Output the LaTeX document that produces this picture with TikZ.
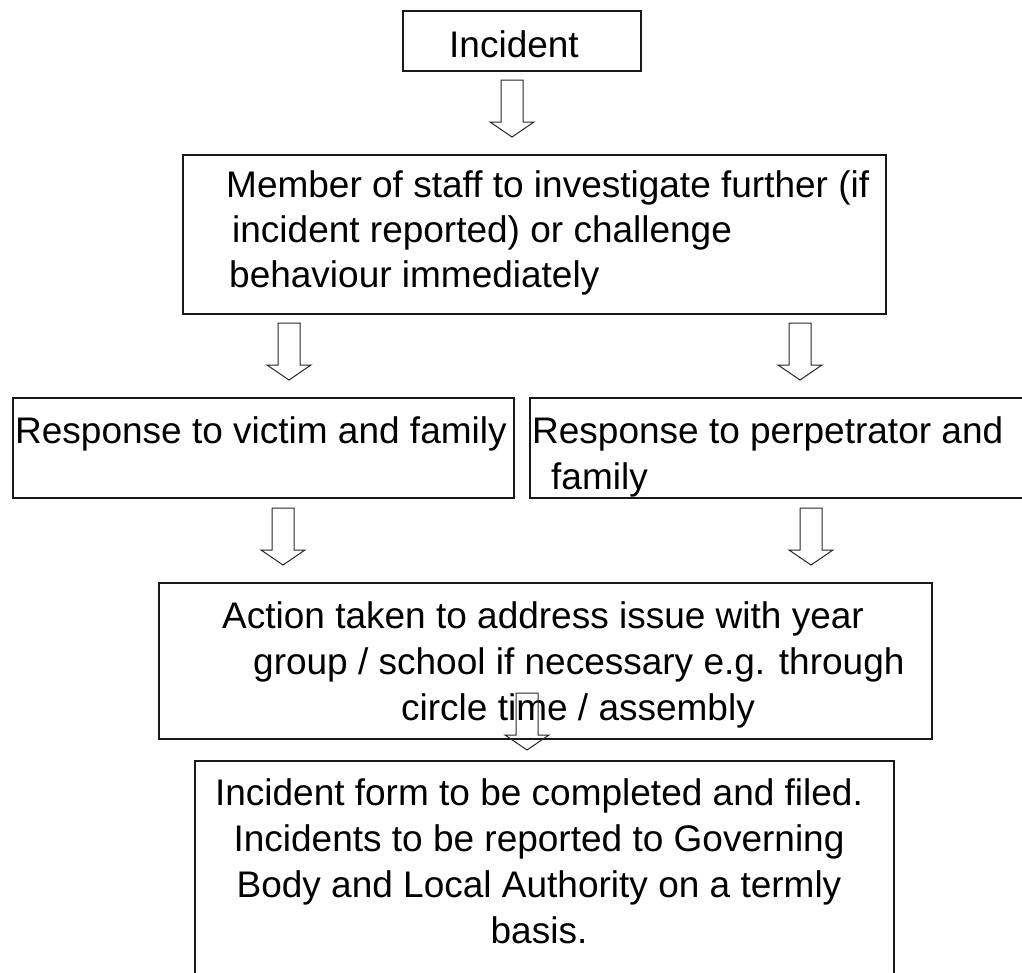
\documentclass[tikz,border=0pt]{standalone}
\usepackage{fontspec}
\setmainfont{Liberation Sans}
\tikzset{
  box/.style={draw=black!90, line width=1.5pt, anchor=north west, inner sep=0pt},
  txt/.style={inner sep=0pt, font=\fontsize{37}{46}\selectfont},
  arrowline/.style={draw=black!85, line width=1pt, line join=miter},
  dnarrow/.pic={\draw[arrowline] (-11,0) -- (11,0) -- (11,42) -- (22,42) -- (0,57) -- (-22,42) -- (-11,42) -- cycle;},
}

\begin{document}
\begin{tikzpicture}[x=1pt, y=-1pt]
    \useasboundingbox (0,0) rectangle (1022,972);
    % boxes
    \node[box, minimum width=238, minimum height=60] (incident) at (402,10) {};
    \node[box, minimum width=703, minimum height=159] (staff) at (182,154) {};
    \node[box, minimum width=501, minimum height=100] (victim) at (12,397) {};
    \node[box, minimum width=494, minimum height=100] (perp) at (529,397) {};
    \node[box, minimum width=773, minimum height=156] (action) at (158,582) {};
    \node[box, minimum width=699, minimum height=230] (form) at (194,760) {};
    % texts (multi-line nodes sit on the baseline of their last line)
    \node[txt, anchor=base] (incidentlbl) at (514,57) {Incident};
    \node[txt, anchor=base west, align=left, font=\fontsize{37}{45}\selectfont] (stafflbl) at (226,287)
      {Member of staff to investigate further (if\\\hspace*{6pt}incident reported) or challenge\\\hspace*{3pt}behaviour immediately};
    \node[txt, anchor=base west] (victimlbl) at (15,443) {Response to victim and family};
    \node[txt, anchor=base west, align=left] (perplbl) at (532,489) {Response to perpetrator and\\\hspace*{19pt}family};
    \node[txt, anchor=base west, align=left] (actionlbl) at (222,720)
      {Action taken to address issue with year\\\hspace*{31pt}group / school if necessary e.g. through\\\hspace*{179pt}circle time / assembly};
    \node[txt, anchor=base, align=center] (formlbl) at (539,943)
      {Incident form to be completed and filed.\\Incidents to be reported to Governing\\Body and Local Authority on a termly\\basis.};
    % arrows
    \pic at (512,80) {dnarrow};
    \pic at (289,323) {dnarrow};
    \pic at (800,323) {dnarrow};
    \pic at (283,508) {dnarrow};
    \pic at (811,508) {dnarrow};
    \pic at (527,693) {dnarrow};
  \end{tikzpicture}
\end{document}
